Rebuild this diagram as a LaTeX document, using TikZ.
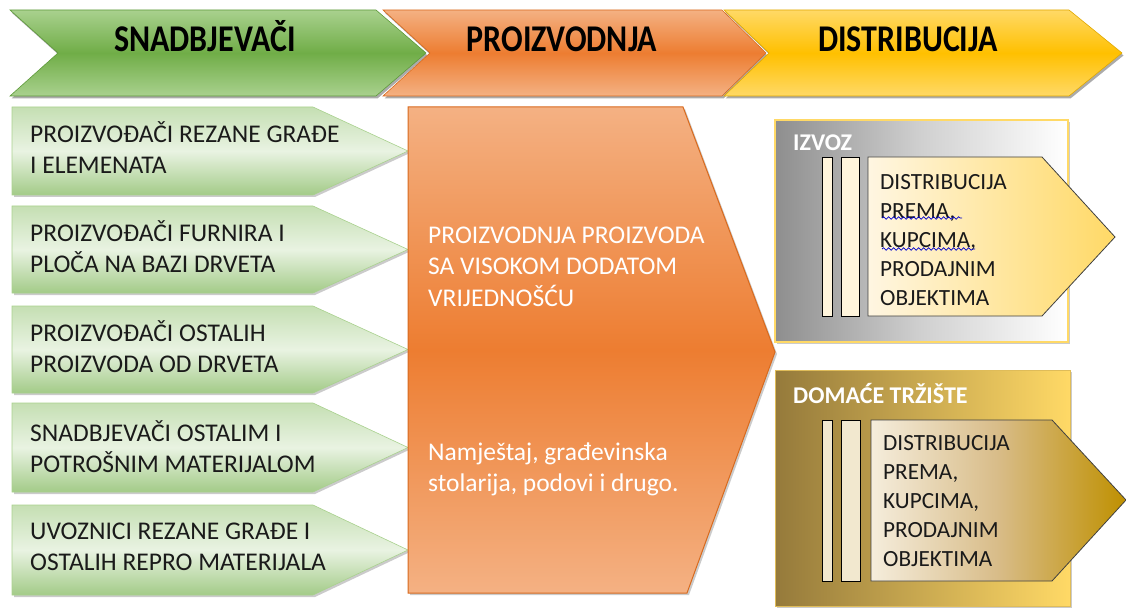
\documentclass[tikz,border=0pt]{standalone}
\usepackage{fontspec}
\setmainfont{Carlito}
\usetikzlibrary{shadows,decorations.pathmorphing}
\definecolor{gLight}{HTML}{A9D18E}
\definecolor{gDark}{HTML}{70AD47}
\definecolor{gEdge}{HTML}{5E9A3A}
\definecolor{oLight}{HTML}{F4B183}
\definecolor{oDark}{HTML}{ED7D31}
\definecolor{oEdge}{HTML}{D86A1E}
\definecolor{yLight}{HTML}{FFD966}
\definecolor{yDark}{HTML}{FFC000}
\definecolor{yEdge}{HTML}{E0A800}
\definecolor{bTop}{HTML}{C5DFB3}
\definecolor{bMid}{HTML}{E9F3E2}
\definecolor{bBot}{HTML}{A3CB88}
\definecolor{grayL}{HTML}{8E8E8E}
\definecolor{grayM}{HTML}{D0D0D0}
\definecolor{creamL}{HTML}{FFF6E2}
\definecolor{barFill}{HTML}{FFF5DC}
\definecolor{oliveL}{HTML}{957A3B}
\definecolor{tanL}{HTML}{F5EDDC}
\definecolor{tanM}{HTML}{D8BC88}
\definecolor{tanR}{HTML}{BF9000}
\definecolor{barFill2}{HTML}{F2E8CF}
\definecolor{txt}{HTML}{1A1A1A}
\begin{document}
\begin{tikzpicture}[x=1pt,y=-1pt,
  hdr/.style={drop shadow={shadow xshift=1.5pt,shadow yshift=-2.5pt,fill=black!55,opacity=.6}},
  boxshadow/.style={drop shadow={shadow xshift=2pt,shadow yshift=-2pt,fill=black!45,opacity=.45}},
  hdrtext/.style={inner sep=0pt,anchor=base,text=black,font=\fontsize{32}{36}\selectfont\bfseries},
  bodytext/.style={inner sep=0pt,anchor=west,align=left,text=txt,font=\fontsize{25.5}{31}\selectfont},
  wtext/.style={inner sep=0pt,anchor=west,align=left,text=white,font=\fontsize{25.5}{31.5}\selectfont},
  disttext/.style={inner sep=0pt,anchor=west,align=left,text=txt,font=\fontsize{23.2}{29}\selectfont},
  lbl/.style={inner sep=0pt,anchor=west,text=white,font=\fontsize{24}{28}\selectfont\bfseries},
  greenbox/.style={boxshadow,draw=gLight,line width=0.6pt,top color=bTop,bottom color=bBot,middle color=bMid},
  bar/.style={draw=black,line width=0.8pt},
  spell/.style={draw=blue!80!black,line width=0.7pt,decorate,decoration={snake,segment length=5pt,amplitude=1.3pt}}
]
\useasboundingbox (0,0) rectangle (1126,612);

% ---- header chevrons ----
\path[hdr,draw=gEdge,line width=0.6pt,top color=gLight,bottom color=gLight,middle color=gDark]
  (10,10) -- (376,10) -- (426,53) -- (376,96) -- (10,96) -- (58,53) -- cycle;
\path[hdr,draw=oEdge,line width=0.6pt,top color=oLight,bottom color=oLight,middle color=oDark]
  (383,10) -- (722,10) -- (766,53) -- (722,96) -- (383,96) -- (430,53) -- cycle;
\path[hdr,draw=yEdge,line width=0.6pt,top color=yLight,bottom color=yLight,middle color=yDark]
  (724,10) -- (1069,10) -- (1122,53) -- (1069,96) -- (724,96) -- (769,53) -- cycle;
\node[hdrtext] (h1) at (205,52) {\scalebox{1}[1.18]{SNADBJEVAČI}};
\node[hdrtext] (h2) at (562,52) {\scalebox{1}[1.18]{PROIZVODNJA}};
\node[hdrtext] (h3) at (908,52) {\scalebox{1}[1.18]{DISTRIBUCIJA}};

% ---- supplier boxes ----
\path[greenbox] (12,107) -- (313,107) -- (408,151) -- (313,195) -- (12,195) -- cycle;
\path[greenbox] (12,206) -- (313,206) -- (408,249.5) -- (313,293) -- (12,293) -- cycle;
\path[greenbox] (12,306) -- (313,306) -- (408,349.5) -- (313,393) -- (12,393) -- cycle;
\path[greenbox] (12,403) -- (313,403) -- (408,447.5) -- (313,492) -- (12,492) -- cycle;
\path[greenbox] (12,505) -- (313,505) -- (408,550) -- (313,595) -- (12,595) -- cycle;
\node[bodytext] (s1) at (30,147.5) {PROIZVOĐAČI REZANE GRAĐE\\I ELEMENATA};
\node[bodytext] (s2) at (30,247) {PROIZVOĐAČI FURNIRA I\\PLOČA NA BAZI DRVETA};
\node[bodytext] (s3) at (30,347) {PROIZVOĐAČI OSTALIH\\PROIZVODA OD DRVETA};
\node[bodytext] (s4) at (30,446.5) {SNADBJEVAČI OSTALIM I\\POTROŠNIM MATERIJALOM};
\node[bodytext] (s5) at (30,546.5) {UVOZNICI REZANE GRAĐE I\\OSTALIH REPRO MATERIJALA};

% ---- production ----
\path[boxshadow,draw=oEdge,line width=1pt,top color=oLight,bottom color=oLight,middle color=oDark]
  (408,107) -- (683,107) -- (775,352) -- (687,593) -- (408,593) -- cycle;
\node[wtext] (p1) at (428,266.5) {PROIZVODNJA PROIZVODA\\SA VISOKOM DODATOM\\VRIJEDNOŠĆU};
\node[wtext] (p2) at (428,469.5) {Namještaj, građevinska\\stolarija, podovi i drugo.};

% ---- export ----
\path[boxshadow,draw=yLight,line width=1.2pt,left color=grayL,right color=white,middle color=grayM]
  (775,120) rectangle (1068,342);
\node[lbl] (ex) at (793,143) {IZVOZ};
\path[bar,fill=barFill] (822,157) rectangle (832,316);
\path[bar,fill=barFill] (841,157) rectangle (859,316);
\path[draw=black!75,line width=0.8pt,left color=creamL,right color=yLight]
  (868,157) -- (1042,157) -- (1115,237) -- (1042,316) -- (868,316) -- cycle;
\node[disttext] (d1) at (880,240) {DISTRIBUCIJA\\PREMA,\\KUPCIMA,\\PRODAJNIM\\OBJEKTIMA};
\draw[spell] (882,218) -- (962,218);
\draw[spell] (882,249) -- (975,249);

% ---- domestic ----
\path[boxshadow,draw=yLight!70!oliveL,line width=0.6pt,left color=oliveL,right color=yLight]
  (775,370) rectangle (1070,606);
\node[lbl] (dm) at (793,394) {DOMAĆE TRŽIŠTE};
\path[bar,fill=barFill2] (822,420) rectangle (832,581);
\path[bar,fill=barFill2] (841,420) rectangle (860,581);
\path[draw=black!75,line width=0.8pt,left color=tanL,right color=tanR,middle color=tanM]
  (871,420) -- (1052,420) -- (1126,500) -- (1052,581) -- (871,581) -- cycle;
\node[disttext] (d2) at (883,501.5) {DISTRIBUCIJA\\PREMA,\\KUPCIMA,\\PRODAJNIM\\OBJEKTIMA};
\end{tikzpicture}
\end{document}
